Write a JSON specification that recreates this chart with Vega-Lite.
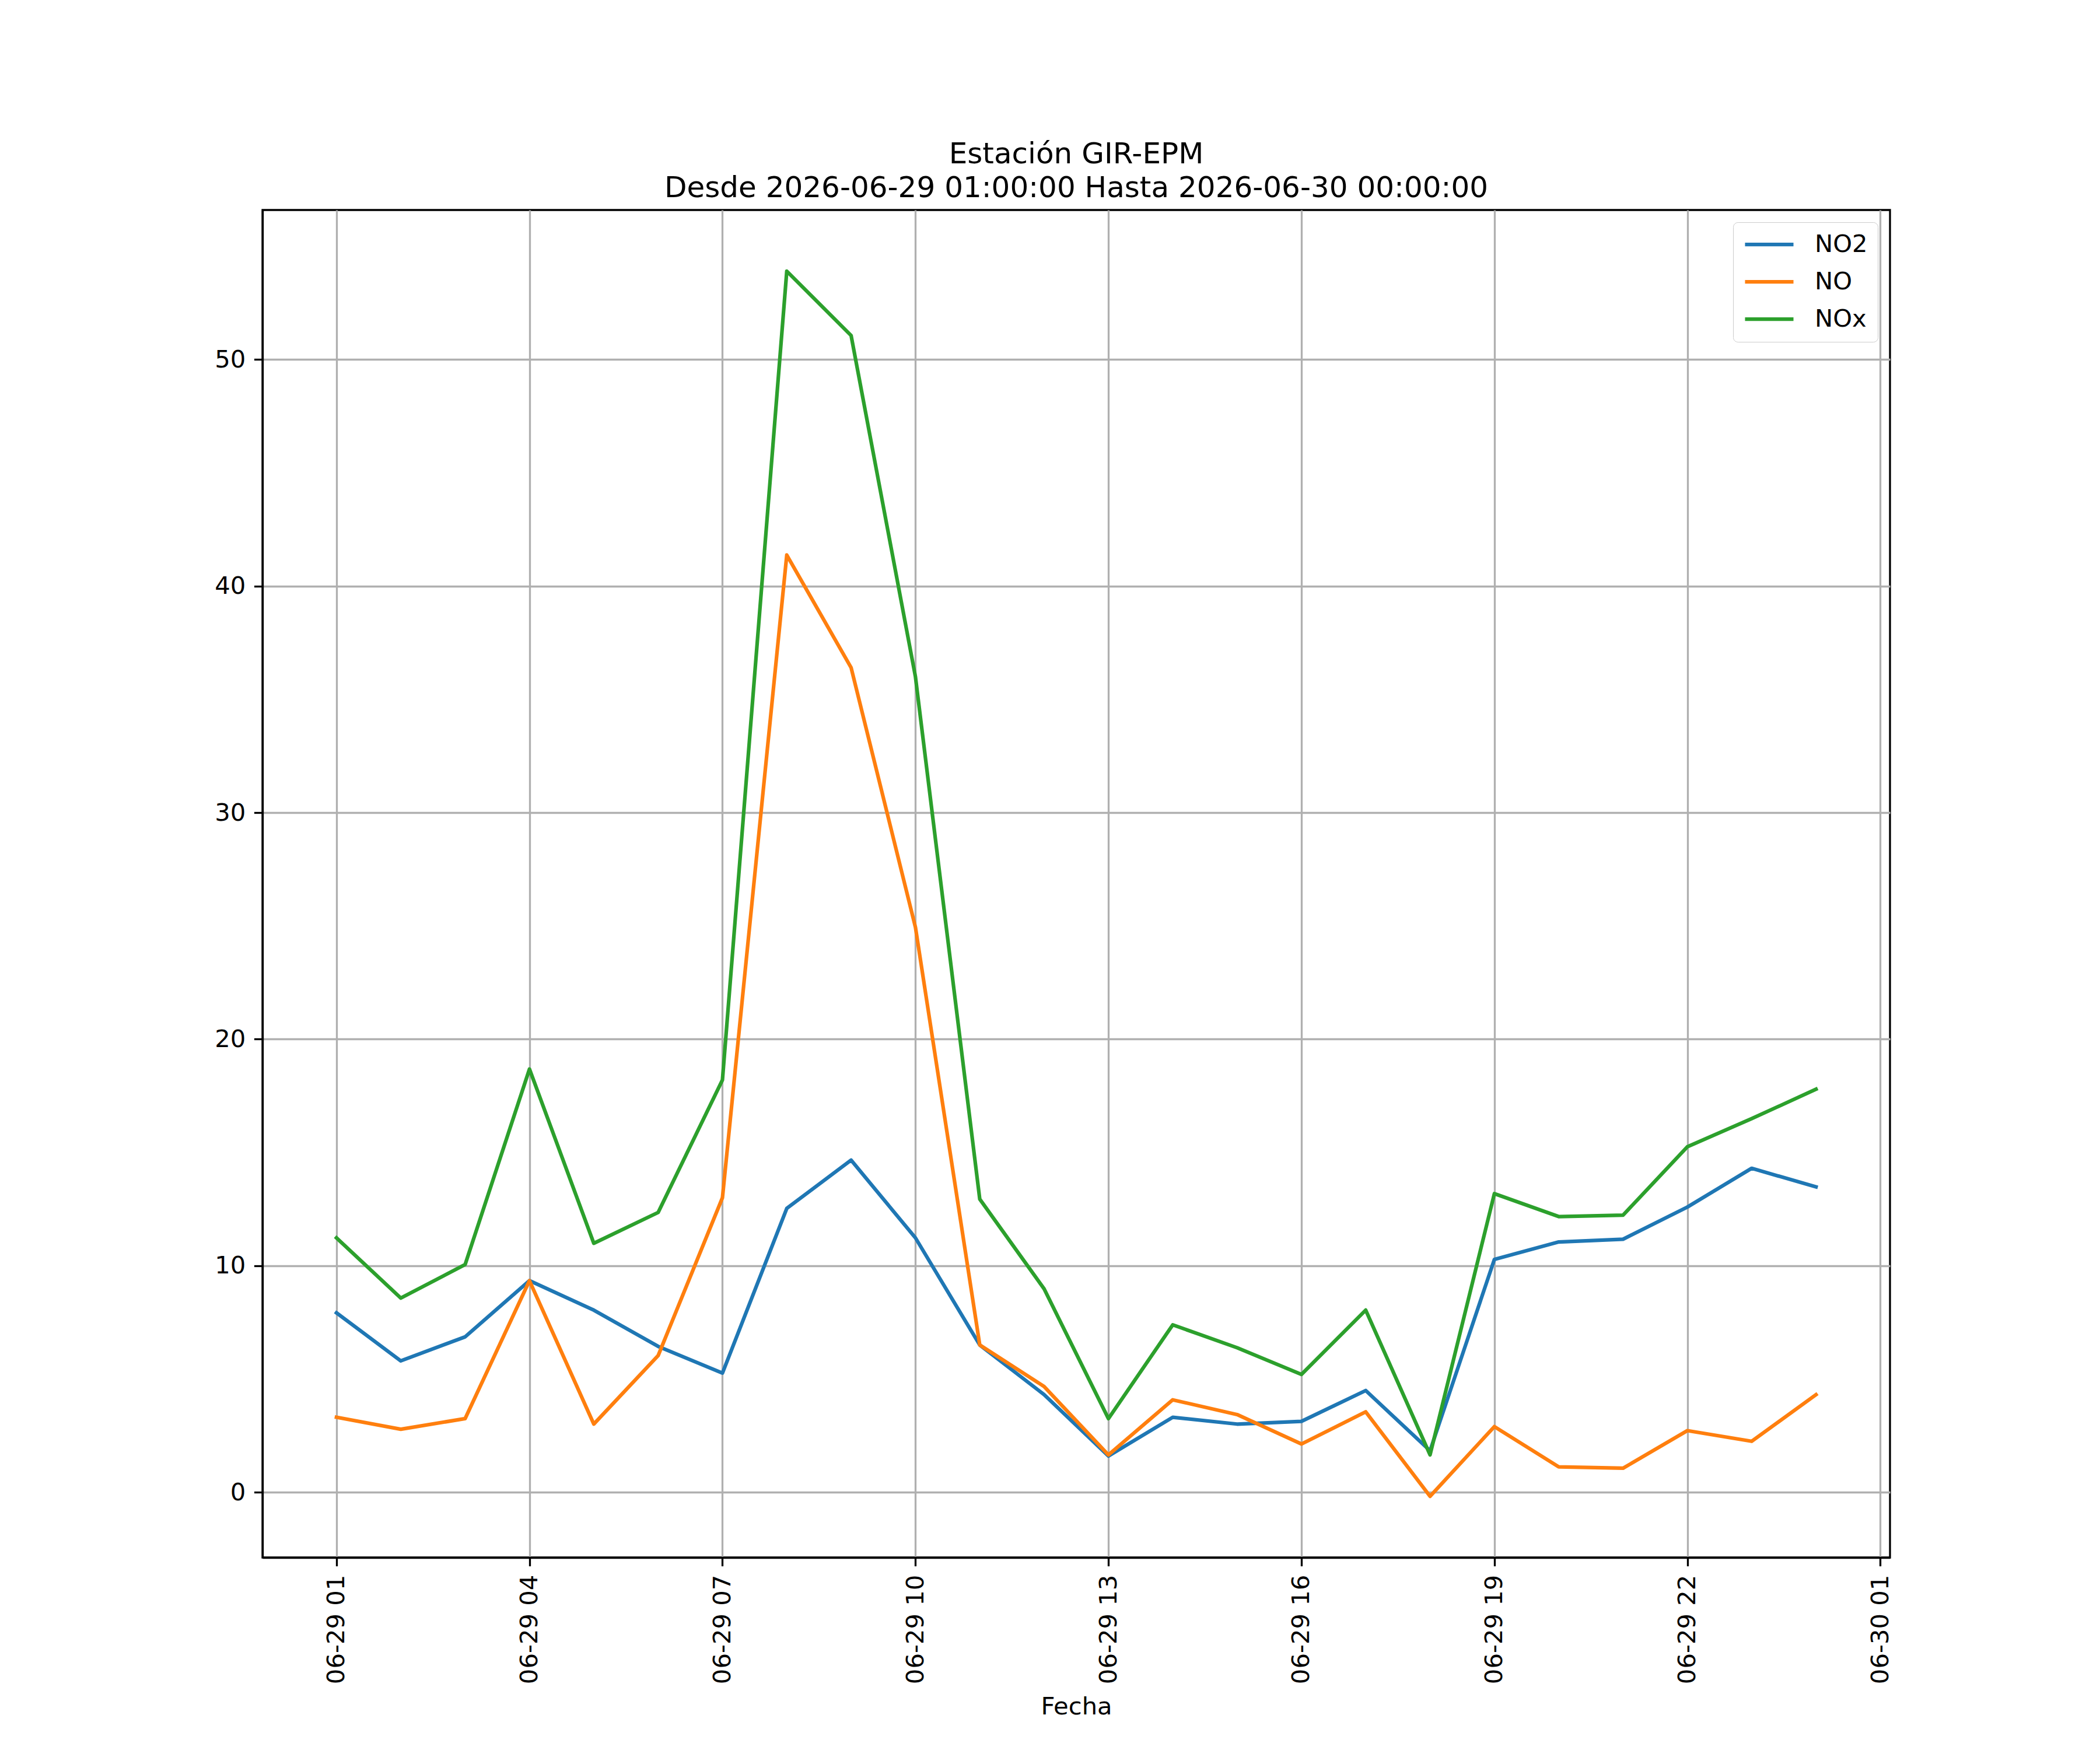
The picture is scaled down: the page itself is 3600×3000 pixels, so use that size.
{
  "$schema": "https://vega.github.io/schema/vega-lite/v6.json",
  "autosize": "none",
  "width": 2790,
  "height": 2310,
  "padding": {"left": 450, "top": 360, "right": 360, "bottom": 330},
  "background": "white",
  "config": {
    "font": "DejaVu Sans",
    "view": {"stroke": "black", "strokeWidth": 3.3},
    "axis": {
      "labelFont": "DejaVu Sans",
      "titleFont": "DejaVu Sans",
      "labelFontSize": 41.7,
      "titleFontSize": 41.7,
      "labelColor": "black",
      "titleColor": "black",
      "titleFontWeight": "normal",
      "tickColor": "black",
      "tickWidth": 3.3,
      "tickSize": 14.6,
      "labelPadding": 14.6,
      "labelLimit": 0,
      "domainColor": "black",
      "domainWidth": 3.3,
      "gridColor": "#b0b0b0",
      "gridWidth": 3.3,
      "gridOpacity": 1
    },
    "legend": {
      "labelFont": "DejaVu Sans",
      "labelFontSize": 41.7,
      "labelColor": "black"
    }
  },
  "title": {
    "text": ["Estación GIR-EPM", "Desde 2026-06-29 01:00:00 Hasta 2026-06-30 00:00:00"],
    "font": "DejaVu Sans",
    "fontSize": 50,
    "fontWeight": "normal",
    "color": "black",
    "anchor": "middle",
    "offset": 12,
    "lineHeight": 58
  },
  "data": {
    "values": [
      {"fecha": "2026-06-29T01:00:00", "NO2": 7.92, "NO": 3.31, "NOx": 11.23},
      {"fecha": "2026-06-29T02:00:00", "NO2": 5.8, "NO": 2.78, "NOx": 8.57},
      {"fecha": "2026-06-29T03:00:00", "NO2": 6.86, "NO": 3.25, "NOx": 10.05},
      {"fecha": "2026-06-29T04:00:00", "NO2": 9.34, "NO": 9.34, "NOx": 18.68},
      {"fecha": "2026-06-29T05:00:00", "NO2": 8.04, "NO": 3.01, "NOx": 10.99},
      {"fecha": "2026-06-29T06:00:00", "NO2": 6.44, "NO": 6.03, "NOx": 12.35},
      {"fecha": "2026-06-29T07:00:00", "NO2": 5.26, "NO": 13.0, "NOx": 18.2},
      {"fecha": "2026-06-29T08:00:00", "NO2": 12.53, "NO": 41.37, "NOx": 53.9},
      {"fecha": "2026-06-29T09:00:00", "NO2": 14.66, "NO": 36.4, "NOx": 51.06},
      {"fecha": "2026-06-29T10:00:00", "NO2": 11.23, "NO": 24.94, "NOx": 36.0},
      {"fecha": "2026-06-29T11:00:00", "NO2": 6.5, "NO": 6.5, "NOx": 12.94},
      {"fecha": "2026-06-29T12:00:00", "NO2": 4.31, "NO": 4.67, "NOx": 8.98},
      {"fecha": "2026-06-29T13:00:00", "NO2": 1.6, "NO": 1.65, "NOx": 3.25},
      {"fecha": "2026-06-29T14:00:00", "NO2": 3.31, "NO": 4.08, "NOx": 7.39},
      {"fecha": "2026-06-29T15:00:00", "NO2": 3.01, "NO": 3.43, "NOx": 6.38},
      {"fecha": "2026-06-29T16:00:00", "NO2": 3.13, "NO": 2.13, "NOx": 5.2},
      {"fecha": "2026-06-29T17:00:00", "NO2": 4.49, "NO": 3.55, "NOx": 8.04},
      {"fecha": "2026-06-29T18:00:00", "NO2": 1.83, "NO": -0.18, "NOx": 1.65},
      {"fecha": "2026-06-29T19:00:00", "NO2": 10.28, "NO": 2.9, "NOx": 13.18},
      {"fecha": "2026-06-29T20:00:00", "NO2": 11.05, "NO": 1.12, "NOx": 12.17},
      {"fecha": "2026-06-29T21:00:00", "NO2": 11.17, "NO": 1.06, "NOx": 12.23},
      {"fecha": "2026-06-29T22:00:00", "NO2": 12.59, "NO": 2.72, "NOx": 15.25},
      {"fecha": "2026-06-29T23:00:00", "NO2": 14.3, "NO": 2.25, "NOx": 16.49},
      {"fecha": "2026-06-30T00:00:00", "NO2": 13.48, "NO": 4.31, "NOx": 17.79}
    ]
  },
  "transform": [
    {"fold": ["NO2", "NO", "NOx"], "as": ["variable", "valor"]}
  ],
  "mark": {"type": "line", "strokeWidth": 6.25, "strokeJoin": "round", "strokeCap": "square"},
  "encoding": {
    "x": {
      "field": "fecha",
      "type": "temporal",
      "title": "Fecha",
      "scale": {"domain": ["2026-06-28T23:51:00", "2026-06-30T01:09:00"], "nice": false},
      "axis": {
        "values": ["2026-06-29T01:00:00", "2026-06-29T04:00:00", "2026-06-29T07:00:00", "2026-06-29T10:00:00", "2026-06-29T13:00:00", "2026-06-29T16:00:00", "2026-06-29T19:00:00", "2026-06-29T22:00:00", "2026-06-30T01:00:00"],
        "format": "%m-%d %H",
        "labelAngle": 270,
        "labelFlush": false,
        "labelOverlap": false,
        "titlePadding": 35,
        "grid": true
      }
    },
    "y": {
      "field": "valor",
      "type": "quantitative",
      "title": null,
      "scale": {"domain": [-2.88, 56.6], "nice": false, "zero": false},
      "axis": {"values": [0, 10, 20, 30, 40, 50], "grid": true, "labelFlush": false}
    },
    "color": {
      "field": "variable",
      "type": "nominal",
      "sort": ["NO2", "NO", "NOx"],
      "scale": {"domain": ["NO2", "NO", "NOx"], "range": ["#1f77b4", "#ff7f0e", "#2ca02c"]},
      "legend": {
        "title": null,
        "orient": "top-right",
        "offset": 21,
        "padding": 17,
        "fillColor": "white",
        "strokeColor": "#cccccc",
        "cornerRadius": 8,
        "symbolType": "stroke",
        "symbolSize": 6900,
        "symbolStrokeWidth": 6.25,
        "labelOffset": 33,
        "clipHeight": 42,
        "rowPadding": 21
      }
    }
  }
}
